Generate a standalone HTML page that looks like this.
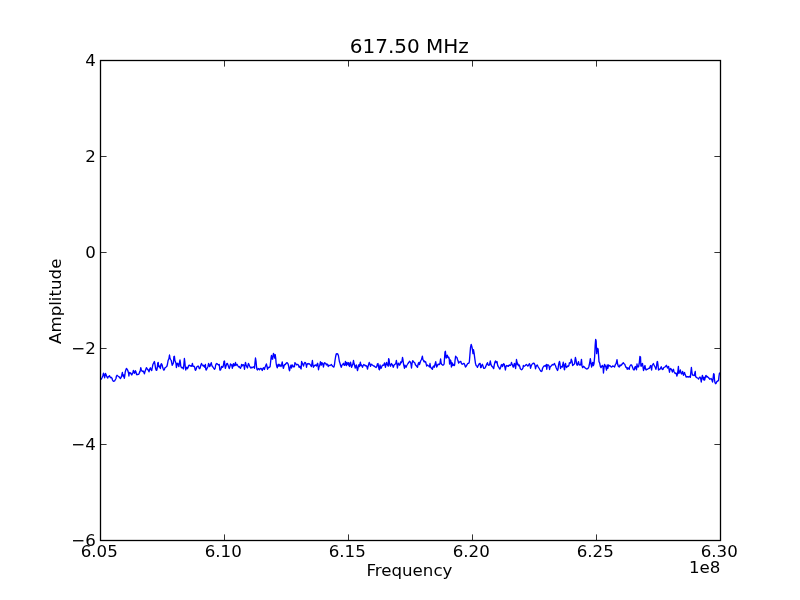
<!DOCTYPE html>
<html><head><meta charset="utf-8"><style>html,body{margin:0;padding:0;background:#fff;width:800px;height:600px;overflow:hidden}svg{display:block;will-change:transform}</style></head>
<body><svg width="800" height="600" viewBox="0 0 800 600">
<rect width="800" height="600" fill="#fff"/>
<path d="M100.00,379.25 L101.00,379.25 L101.50,378.75 L102.25,377.25 L102.75,376.00 L103.50,373.25 L104.10,375.00 L104.60,377.75 L105.00,376.00 L105.50,373.50 L106.10,374.75 L106.60,376.00 L107.25,377.50 L107.75,378.00 L108.25,376.75 L108.90,376.25 L109.50,375.75 L110.00,377.00 L110.50,377.75 L111.00,377.25 L111.50,377.75 L112.00,378.25 L112.50,380.00 L113.10,381.00 L114.00,381.25 L114.60,381.00 L115.25,379.75 L115.90,378.75 L116.50,376.00 L117.00,375.25 L117.60,375.75 L118.25,376.25 L119.00,376.75 L119.75,377.75 L120.50,378.50 L121.00,377.75 L121.75,375.25 L122.40,372.50 L122.75,375.00 L123.25,376.50 L123.75,375.00 L124.40,378.25 L124.75,376.00 L125.25,372.00 L125.75,370.25 L126.40,368.50 L127.00,369.00 L127.60,370.00 L128.10,371.50 L128.60,373.25 L128.90,376.00 L129.25,373.00 L129.75,372.50 L130.25,373.50 L130.75,373.00 L131.25,374.00 L131.75,375.00 L132.25,374.00 L132.90,372.50 L133.40,370.50 L133.90,371.50 L134.40,373.25 L134.90,372.50 L135.40,370.75 L135.90,371.75 L136.40,374.00 L137.00,374.75 L137.60,374.50 L138.25,374.25 L138.75,374.25 L139.25,373.25 L139.75,371.50 L140.00,372.00 L140.75,367.75 L141.40,370.00 L142.25,371.50 L143.00,371.00 L143.75,372.00 L144.40,373.75 L145.00,371.50 L145.75,369.50 L146.40,367.75 L147.10,368.75 L147.75,369.50 L148.50,370.50 L149.00,371.75 L149.75,369.00 L150.40,367.75 L151.00,369.50 L151.75,370.50 L152.40,367.00 L152.90,364.50 L153.50,363.25 L154.40,361.50 L155.00,364.50 L155.50,368.00 L156.10,370.00 L156.75,370.25 L157.25,367.75 L157.75,363.00 L158.25,362.50 L158.60,366.50 L159.25,367.00 L159.75,366.00 L160.40,368.50 L160.90,364.50 L161.50,363.75 L162.10,365.00 L162.60,367.00 L163.25,369.00 L163.90,370.25 L164.40,369.50 L165.00,367.75 L165.75,367.25 L166.40,366.75 L167.00,366.00 L167.50,364.00 L168.10,360.50 L168.90,358.75 L169.50,355.00 L170.00,358.25 L170.60,359.50 L171.25,360.50 L171.75,363.00 L172.25,365.25 L172.90,364.00 L173.40,363.00 L173.90,356.50 L174.40,356.25 L174.90,360.50 L175.40,361.75 L175.90,363.00 L176.40,367.50 L176.90,363.50 L177.40,363.25 L177.90,363.50 L178.40,366.00 L178.90,366.50 L179.40,363.00 L180.00,360.00 L180.40,362.50 L180.75,366.00 L181.40,367.50 L182.10,367.75 L182.75,367.50 L183.40,369.00 L183.90,364.00 L184.40,358.50 L184.80,361.50 L185.25,366.50 L185.75,370.00 L186.25,367.50 L186.75,367.25 L187.40,368.75 L188.00,367.75 L188.50,366.00 L189.10,365.25 L189.75,365.50 L190.40,366.00 L191.10,365.75 L191.75,366.25 L192.40,363.50 L192.90,366.00 L193.50,366.50 L194.10,366.25 L194.60,367.00 L195.10,369.75 L195.60,370.25 L196.10,369.25 L196.75,367.00 L197.40,366.50 L198.10,366.00 L198.75,367.00 L199.25,368.50 L199.75,368.75 L200.25,367.50 L200.90,365.00 L201.50,363.50 L202.00,364.75 L202.60,365.25 L203.10,366.00 L203.60,365.25 L204.10,366.50 L204.60,367.25 L205.00,365.50 L205.40,364.50 L205.75,369.00 L206.10,370.00 L206.50,369.50 L207.00,368.50 L207.50,367.50 L208.00,366.50 L208.60,363.50 L209.10,364.50 L209.60,366.50 L210.10,366.00 L210.60,364.50 L211.25,362.75 L211.75,365.00 L212.25,366.25 L212.90,367.00 L213.40,367.75 L214.00,368.75 L214.60,369.25 L215.10,368.50 L215.60,365.50 L216.10,364.00 L216.75,363.50 L217.40,364.00 L218.00,364.50 L218.60,365.00 L219.25,364.50 L219.75,369.00 L220.00,370.00 L220.50,370.00 L221.10,368.50 L221.60,366.50 L222.25,367.25 L222.90,367.00 L223.50,365.00 L224.00,361.25 L224.50,361.00 L225.00,366.50 L225.40,368.25 L226.00,366.00 L226.75,363.75 L227.40,363.50 L228.00,365.00 L228.60,366.75 L229.25,368.50 L229.90,366.50 L230.50,364.00 L231.10,364.75 L231.75,365.00 L232.40,368.25 L232.90,365.00 L233.40,363.75 L233.90,366.00 L234.50,364.25 L235.00,365.25 L235.50,362.50 L236.00,365.50 L236.50,364.50 L237.00,364.25 L237.50,365.00 L238.00,366.00 L238.60,367.00 L239.25,366.50 L239.90,367.75 L240.50,368.25 L241.10,366.50 L241.60,364.50 L242.10,366.00 L242.75,365.00 L243.40,364.75 L243.90,365.50 L244.50,369.25 L245.00,365.00 L245.50,362.50 L246.00,364.50 L246.50,366.00 L247.00,367.25 L247.50,368.00 L248.00,365.00 L248.50,363.50 L249.00,364.50 L249.60,366.00 L250.25,367.25 L250.90,368.00 L251.50,367.25 L252.10,367.75 L252.75,367.25 L253.40,366.75 L254.00,367.00 L254.50,368.25 L255.00,362.50 L255.50,358.00 L256.00,361.00 L256.40,365.50 L256.90,369.25 L257.40,370.00 L258.00,368.75 L258.50,368.50 L259.00,369.25 L259.50,369.75 L260.00,368.75 L260.75,368.50 L261.40,368.75 L262.25,370.50 L262.90,368.50 L263.60,367.75 L264.40,369.50 L264.90,367.50 L265.50,366.25 L266.40,364.00 L267.00,366.50 L267.50,369.25 L268.10,367.25 L268.75,367.75 L269.50,367.25 L270.10,366.50 L270.60,362.00 L271.10,357.50 L271.50,355.50 L272.00,359.00 L272.60,359.25 L273.10,355.50 L273.50,353.50 L274.10,354.75 L274.60,358.00 L275.25,354.75 L275.75,358.50 L276.10,363.00 L276.60,365.75 L277.25,367.75 L277.75,365.25 L278.25,364.25 L278.75,366.00 L279.25,364.50 L279.75,366.00 L280.40,365.00 L281.00,366.50 L281.60,364.75 L282.25,362.00 L282.75,365.50 L283.40,368.25 L283.90,366.50 L284.50,364.75 L285.25,364.50 L286.00,363.50 L286.75,362.75 L287.50,363.00 L288.10,364.00 L288.60,366.00 L289.10,369.50 L289.60,370.75 L290.10,368.00 L290.60,366.00 L291.10,365.00 L291.60,368.00 L292.10,365.25 L292.60,365.00 L293.25,366.50 L293.90,367.00 L294.50,366.50 L294.90,362.75 L295.50,363.50 L296.10,364.00 L296.75,365.00 L297.40,364.50 L298.00,364.50 L298.50,365.25 L299.10,367.25 L299.60,367.00 L300.00,366.25 L300.50,368.00 L301.10,369.00 L301.60,361.50 L302.25,363.00 L302.90,364.50 L303.50,366.00 L304.10,363.75 L304.75,362.50 L305.50,362.75 L306.10,364.50 L306.50,367.25 L307.00,364.50 L307.60,363.75 L308.25,364.00 L308.90,363.50 L309.50,364.00 L310.25,364.75 L310.90,365.75 L311.50,366.50 L312.00,363.00 L312.40,360.50 L312.90,364.50 L313.40,367.25 L314.00,366.25 L314.60,365.50 L315.25,365.25 L315.90,365.00 L316.60,366.00 L317.25,364.00 L317.60,363.25 L318.00,365.00 L318.50,369.75 L319.00,367.00 L319.50,366.25 L319.90,365.00 L320.40,361.75 L320.90,362.50 L321.40,365.00 L321.90,362.75 L322.40,363.00 L322.90,364.00 L323.40,367.00 L323.90,364.50 L324.50,362.75 L325.10,363.00 L325.75,363.50 L326.40,365.00 L327.00,364.00 L327.60,364.50 L328.25,366.50 L328.90,365.25 L329.50,365.50 L330.10,365.50 L330.75,365.00 L331.40,364.50 L332.00,365.50 L332.60,366.25 L333.25,366.75 L333.90,367.00 L334.50,364.50 L335.00,360.50 L335.60,356.75 L336.25,354.00 L337.00,353.75 L337.75,354.00 L338.40,355.50 L338.90,358.50 L339.40,361.50 L340.00,363.25 L340.60,365.50 L341.25,367.25 L342.00,365.00 L342.75,364.50 L343.40,363.25 L344.00,365.00 L344.75,365.25 L345.40,361.50 L345.90,363.25 L346.40,365.50 L347.00,362.50 L347.60,364.00 L348.10,364.75 L348.60,362.75 L349.10,365.75 L349.60,366.50 L350.00,363.75 L350.50,362.25 L351.10,365.00 L351.60,367.25 L352.25,365.50 L352.90,364.00 L353.50,360.50 L354.00,363.50 L354.60,365.50 L355.25,368.00 L355.75,366.50 L356.25,365.00 L356.75,367.25 L357.50,370.50 L358.00,368.50 L358.50,365.00 L359.00,364.75 L359.50,366.50 L359.90,364.50 L360.40,362.25 L360.90,365.50 L361.40,365.00 L362.00,366.00 L362.50,367.25 L363.10,365.50 L363.75,364.50 L364.50,365.00 L365.25,365.75 L365.90,365.50 L366.50,366.00 L367.00,367.00 L367.50,369.00 L368.00,366.50 L368.60,364.50 L369.25,362.50 L369.90,363.75 L370.50,366.25 L371.00,364.50 L371.60,364.25 L372.25,365.00 L373.00,365.50 L373.75,366.00 L374.50,366.25 L375.25,367.00 L376.00,367.50 L376.75,366.50 L377.50,363.75 L378.00,363.50 L378.50,366.50 L379.00,369.25 L379.50,369.75 L380.00,365.00 L380.50,367.50 L381.10,368.25 L381.75,366.75 L382.40,365.25 L383.10,365.25 L383.75,365.00 L384.50,363.00 L385.00,365.00 L385.50,367.25 L386.10,364.00 L386.60,362.50 L387.10,364.50 L387.75,365.25 L388.25,366.25 L388.60,358.75 L389.00,359.25 L389.40,362.50 L389.90,365.25 L390.50,366.25 L391.00,364.50 L391.50,363.50 L392.00,364.50 L392.60,365.25 L393.25,367.25 L393.75,366.00 L394.25,364.75 L395.00,364.25 L395.75,363.75 L396.40,360.50 L396.90,363.50 L397.40,368.00 L397.90,365.25 L398.50,363.25 L399.10,364.50 L399.60,365.25 L400.10,364.50 L400.60,362.00 L401.25,362.75 L401.90,361.50 L402.50,357.50 L403.00,360.00 L403.50,364.00 L404.00,366.00 L404.50,368.25 L405.00,365.25 L405.60,366.50 L406.10,367.25 L406.75,365.50 L407.40,364.50 L408.00,363.50 L408.75,362.50 L409.50,361.25 L410.25,362.00 L410.90,363.50 L411.50,368.00 L412.10,363.00 L412.75,360.75 L413.40,361.50 L414.00,362.25 L414.75,362.75 L415.40,364.75 L416.10,365.50 L416.90,366.50 L417.50,367.25 L418.00,364.75 L418.50,363.00 L419.00,362.50 L419.50,364.50 L420.00,363.00 L420.60,361.00 L421.50,359.50 L422.40,356.25 L422.90,359.50 L423.50,360.50 L424.00,361.75 L424.50,361.00 L425.00,362.00 L425.60,361.75 L426.25,364.25 L426.75,366.00 L427.40,365.00 L428.00,365.50 L428.75,366.00 L429.40,367.00 L430.00,363.50 L430.50,367.00 L431.10,367.75 L431.75,368.50 L432.40,369.25 L432.90,367.00 L433.50,366.00 L434.25,367.25 L434.90,364.75 L435.75,361.75 L436.25,365.00 L436.75,367.00 L437.25,366.00 L437.90,364.50 L438.60,364.25 L439.25,364.50 L439.90,363.75 L440.60,359.00 L441.10,363.00 L441.60,364.25 L442.25,364.75 L442.90,365.25 L443.50,365.00 L444.10,364.00 L444.50,358.50 L445.00,352.00 L445.40,351.25 L445.80,355.00 L446.10,358.00 L446.75,357.25 L447.25,355.25 L447.75,356.50 L448.25,357.75 L448.75,357.25 L449.25,359.00 L449.60,364.00 L450.00,362.00 L450.40,360.00 L450.90,361.00 L451.40,367.00 L451.90,362.75 L452.40,363.00 L452.90,365.50 L453.50,364.50 L454.25,365.50 L454.60,365.00 L455.10,360.00 L455.60,356.25 L456.25,357.00 L456.90,357.50 L457.50,359.50 L458.10,361.00 L458.60,363.00 L459.25,362.25 L460.00,361.67 L460.80,361.33 L461.47,363.67 L462.33,364.33 L463.20,363.67 L464.00,363.33 L464.67,364.67 L465.47,367.00 L466.33,366.00 L467.20,364.33 L467.87,363.33 L468.67,363.33 L469.33,362.00 L469.87,355.33 L470.53,347.33 L471.20,344.33 L471.87,346.67 L472.53,350.00 L473.00,353.67 L473.47,349.67 L474.13,353.33 L474.80,358.67 L475.47,363.33 L476.13,365.67 L476.80,366.00 L477.47,367.33 L478.33,365.33 L479.33,363.67 L480.13,363.33 L480.67,367.67 L481.20,367.33 L481.67,365.33 L482.33,364.33 L483.00,366.00 L483.67,368.33 L484.33,368.33 L485.00,368.00 L485.67,366.67 L486.33,365.00 L487.00,363.67 L487.47,362.67 L488.00,364.67 L488.67,365.33 L489.47,365.00 L490.33,361.00 L491.00,364.67 L491.67,366.00 L492.33,366.67 L493.00,367.33 L493.67,368.67 L494.33,364.67 L495.00,362.00 L495.67,361.00 L496.33,362.67 L497.00,361.67 L497.67,365.33 L498.33,366.67 L499.00,367.67 L499.67,369.00 L500.00,369.00 L500.60,367.50 L501.25,365.00 L501.90,364.50 L502.50,366.50 L503.10,365.00 L503.60,363.75 L504.25,364.25 L504.75,366.50 L505.40,370.00 L505.90,367.00 L506.50,365.50 L507.10,365.75 L507.75,366.00 L508.40,366.25 L509.10,365.25 L509.75,365.00 L510.50,365.50 L511.00,364.50 L511.50,362.50 L512.00,364.00 L512.50,365.00 L513.10,367.00 L513.60,367.00 L514.10,364.00 L514.60,363.50 L515.10,365.50 L515.60,368.50 L516.10,364.00 L516.50,359.50 L517.00,362.25 L517.50,364.50 L518.00,364.00 L518.60,365.75 L519.25,365.00 L519.75,366.50 L520.25,368.50 L520.90,369.25 L521.60,369.75 L522.25,369.25 L522.90,368.00 L523.40,365.50 L523.90,366.50 L524.50,366.00 L525.10,365.75 L525.75,365.00 L526.40,364.50 L527.00,365.00 L527.60,366.00 L528.25,365.75 L528.90,364.50 L529.50,363.75 L530.00,365.00 L530.50,368.25 L531.00,366.50 L531.60,365.00 L532.25,364.00 L532.90,363.50 L533.60,363.25 L534.25,363.50 L534.90,365.00 L535.50,368.75 L536.00,366.50 L536.60,365.75 L537.25,365.00 L537.75,366.00 L538.25,367.00 L538.90,368.00 L539.50,369.00 L540.00,370.00 L540.50,370.75 L541.25,371.50 L542.00,371.00 L542.50,368.50 L543.10,367.25 L543.75,366.25 L544.50,366.00 L545.25,365.50 L545.90,366.50 L546.40,364.50 L546.75,369.25 L547.25,365.50 L547.90,364.75 L548.50,365.00 L549.00,366.00 L549.60,369.50 L550.00,367.25 L550.60,366.50 L551.25,366.00 L551.90,365.00 L552.50,364.50 L553.10,365.00 L553.75,364.50 L554.50,363.50 L555.00,364.75 L555.60,366.00 L556.25,368.00 L556.90,369.25 L557.50,370.50 L558.00,369.25 L558.50,365.50 L559.10,362.50 L559.50,361.50 L560.00,363.75 L560.50,368.50 L561.00,367.00 L561.60,366.50 L562.25,367.00 L562.75,365.00 L563.25,362.25 L563.75,365.00 L564.25,369.25 L564.60,369.75 L565.00,365.00 L565.50,363.50 L566.00,366.00 L566.50,367.50 L567.00,367.00 L567.60,366.00 L568.25,366.25 L568.90,365.50 L569.40,362.75 L570.00,363.00 L570.60,363.00 L571.25,359.25 L571.75,360.50 L572.25,362.50 L572.60,365.50 L573.25,365.00 L574.00,364.25 L574.60,363.75 L575.00,360.00 L575.40,357.50 L576.00,360.00 L576.40,362.50 L576.90,365.00 L577.50,365.25 L578.00,363.50 L578.50,361.75 L579.00,363.75 L579.50,365.00 L580.00,364.67 L580.67,365.00 L581.47,359.33 L582.00,365.67 L582.67,367.67 L583.47,366.33 L584.33,367.00 L585.20,368.00 L586.13,368.67 L587.00,369.00 L588.00,368.33 L588.80,367.00 L589.67,363.00 L590.33,358.67 L591.00,363.67 L591.67,367.00 L592.33,363.33 L592.80,362.33 L593.33,365.67 L594.00,363.67 L594.67,356.33 L595.20,345.00 L595.67,339.33 L596.13,341.00 L596.67,353.67 L597.20,348.33 L597.67,348.33 L598.13,349.33 L598.53,355.00 L599.00,361.67 L599.67,363.00 L600.33,366.33 L601.00,367.67 L601.67,366.67 L602.33,365.33 L603.00,366.67 L603.47,373.00 L604.00,367.67 L604.53,364.33 L605.20,365.67 L605.87,367.00 L606.53,370.00 L607.20,365.00 L607.87,368.33 L608.53,365.00 L609.20,366.00 L610.00,365.67 L610.80,366.67 L611.67,367.00 L612.67,366.00 L613.67,366.33 L614.53,367.00 L615.33,364.67 L616.13,363.67 L617.00,359.67 L617.67,364.33 L618.33,366.33 L619.20,367.00 L620.00,365.00 L620.60,365.75 L621.25,365.25 L622.00,364.25 L622.75,363.25 L623.40,362.75 L624.00,363.75 L624.75,364.25 L625.40,366.00 L625.90,367.25 L626.60,367.50 L627.25,369.25 L627.90,367.75 L628.50,368.50 L629.25,369.25 L629.75,366.50 L630.40,365.50 L631.10,364.75 L631.60,365.00 L632.25,366.50 L632.90,368.25 L633.50,369.75 L634.25,369.75 L634.90,367.25 L635.50,366.50 L636.00,368.50 L636.50,369.75 L637.00,364.00 L637.50,366.75 L638.10,367.00 L638.60,366.50 L639.25,363.25 L639.90,356.50 L640.50,357.00 L640.90,366.00 L641.40,366.00 L641.90,364.00 L642.50,363.50 L643.00,367.00 L643.50,370.50 L644.00,369.00 L644.50,366.50 L645.00,365.50 L645.50,369.00 L646.10,370.00 L646.75,369.25 L647.50,369.25 L648.25,368.75 L648.90,368.25 L649.50,368.25 L650.10,366.50 L650.60,365.50 L651.10,367.25 L651.60,370.00 L652.10,365.50 L652.75,364.50 L653.40,363.50 L654.00,365.00 L654.60,366.25 L655.25,367.25 L655.90,369.25 L656.50,366.50 L657.10,361.75 L657.50,361.50 L658.00,365.00 L658.50,370.00 L659.00,369.75 L659.50,369.25 L660.00,369.25 L660.60,368.00 L661.25,366.75 L661.90,368.75 L662.50,369.50 L663.10,369.25 L663.60,367.75 L664.40,367.25 L665.25,366.75 L665.90,366.00 L666.40,365.25 L667.00,366.75 L667.50,368.00 L668.10,367.00 L668.60,366.50 L669.10,370.00 L669.50,372.25 L670.00,369.25 L670.60,368.50 L671.25,369.25 L671.90,370.50 L672.40,372.00 L672.90,370.00 L673.40,369.25 L673.90,371.25 L674.50,372.50 L675.10,373.50 L675.75,373.00 L676.25,373.50 L676.90,376.00 L677.40,374.00 L677.90,371.00 L678.40,366.50 L678.90,373.50 L679.40,372.00 L679.90,371.75 L680.40,370.00 L680.90,373.00 L681.50,374.00 L682.10,373.00 L682.60,371.50 L683.10,374.00 L683.50,375.25 L684.00,373.50 L684.50,372.50 L685.00,374.00 L685.60,375.50 L686.10,377.00 L686.75,376.75 L687.50,376.75 L688.25,377.00 L689.00,376.75 L689.75,376.50 L690.40,377.25 L690.75,373.00 L691.40,367.50 L691.90,372.00 L692.40,375.00 L693.00,375.00 L693.60,375.25 L694.25,375.50 L694.75,373.50 L695.25,371.50 L695.60,376.50 L696.10,377.25 L696.75,377.50 L697.40,378.00 L698.00,378.25 L698.60,379.00 L699.10,378.00 L699.60,377.25 L700.00,377.00 L700.60,378.00 L701.25,382.00 L701.75,378.50 L702.40,375.50 L702.90,377.00 L703.40,379.75 L704.00,377.50 L704.60,380.00 L705.10,378.00 L705.60,376.00 L706.10,375.50 L706.75,377.00 L707.40,376.50 L708.00,377.25 L708.60,377.75 L709.25,378.50 L709.90,379.25 L710.50,379.00 L711.10,378.50 L711.60,379.25 L712.10,380.50 L712.60,382.00 L713.10,378.00 L713.60,373.75 L714.10,374.00 L714.50,379.75 L715.00,382.75 L715.60,383.75 L716.10,383.25 L716.60,382.00 L717.25,381.25 L717.90,381.00 L718.50,380.50 L719.00,376.00 L719.50,373.00 L720.00,372.75" fill="none" stroke="#0000ff" stroke-width="1.35" stroke-linejoin="round"/>
<rect x="100.5" y="60.5" width="620" height="480" fill="none" stroke="#000" stroke-width="1.3"/>
<path d="M100.5,540.5 v-6.1 M100.5,60.5 v6.1 M224.5,540.5 v-6.1 M224.5,60.5 v6.1 M348.5,540.5 v-6.1 M348.5,60.5 v6.1 M472.5,540.5 v-6.1 M472.5,60.5 v6.1 M596.5,540.5 v-6.1 M596.5,60.5 v6.1 M720.5,540.5 v-6.1 M720.5,60.5 v6.1 M100.5,60.5 h6.1 M720.5,60.5 h-6.1 M100.5,156.5 h6.1 M720.5,156.5 h-6.1 M100.5,252.5 h6.1 M720.5,252.5 h-6.1 M100.5,348.5 h6.1 M720.5,348.5 h-6.1 M100.5,444.5 h6.1 M720.5,444.5 h-6.1 M100.5,540.5 h6.1 M720.5,540.5 h-6.1" stroke="#000" stroke-width="0.8" fill="none"/>
<text x="95.8" y="66.0" font-family="DejaVu Sans, Liberation Sans, sans-serif" font-size="16.67" text-anchor="end">4</text>
<text x="95.8" y="162.0" font-family="DejaVu Sans, Liberation Sans, sans-serif" font-size="16.67" text-anchor="end">2</text>
<text x="95.8" y="258.0" font-family="DejaVu Sans, Liberation Sans, sans-serif" font-size="16.67" text-anchor="end">0</text>
<text x="95.8" y="354.0" font-family="DejaVu Sans, Liberation Sans, sans-serif" font-size="16.67" text-anchor="end">−2</text>
<text x="95.8" y="450.0" font-family="DejaVu Sans, Liberation Sans, sans-serif" font-size="16.67" text-anchor="end">−4</text>
<text x="95.8" y="546.0" font-family="DejaVu Sans, Liberation Sans, sans-serif" font-size="16.67" text-anchor="end">−6</text>
<text x="99.2" y="557.2" font-family="DejaVu Sans, Liberation Sans, sans-serif" font-size="16.67" text-anchor="middle">6.05</text>
<text x="223.2" y="557.2" font-family="DejaVu Sans, Liberation Sans, sans-serif" font-size="16.67" text-anchor="middle">6.10</text>
<text x="347.2" y="557.2" font-family="DejaVu Sans, Liberation Sans, sans-serif" font-size="16.67" text-anchor="middle">6.15</text>
<text x="471.2" y="557.2" font-family="DejaVu Sans, Liberation Sans, sans-serif" font-size="16.67" text-anchor="middle">6.20</text>
<text x="595.2" y="557.2" font-family="DejaVu Sans, Liberation Sans, sans-serif" font-size="16.67" text-anchor="middle">6.25</text>
<text x="719.2" y="557.2" font-family="DejaVu Sans, Liberation Sans, sans-serif" font-size="16.67" text-anchor="middle">6.30</text>
<text x="409.3" y="53.1" font-family="DejaVu Sans, Liberation Sans, sans-serif" font-size="20" text-anchor="middle">617.50 MHz</text>
<text x="409.4" y="576" font-family="DejaVu Sans, Liberation Sans, sans-serif" font-size="16.67" text-anchor="middle">Frequency</text>
<text x="720.4" y="572.8" font-family="DejaVu Sans, Liberation Sans, sans-serif" font-size="16.67" text-anchor="end">1e8</text>
<text transform="translate(61.2,301.3) rotate(-90)" font-family="DejaVu Sans, Liberation Sans, sans-serif" font-size="16.67" text-anchor="middle">Amplitude</text>
</svg></body></html>
